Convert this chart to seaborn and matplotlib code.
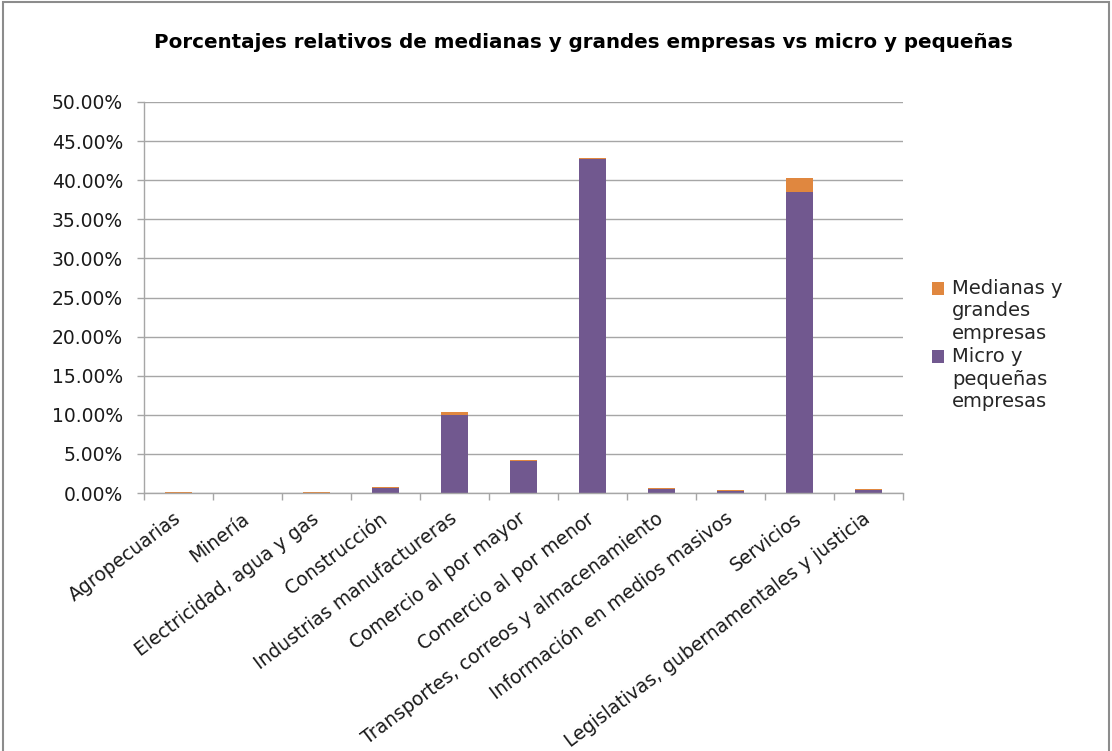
import matplotlib
matplotlib.use("Agg")
import matplotlib.pyplot as plt
from matplotlib.patches import Patch, Rectangle
from matplotlib.legend_handler import HandlerPatch
from matplotlib.ticker import FuncFormatter, MultipleLocator, FixedLocator
import numpy as np
import pandas as pd
import seaborn as sns

# Sector shares (% of all establishments)
sectores = [
    "Agropecuarias",
    "Minería",
    "Electricidad, agua y gas",
    "Construcción",
    "Industrias manufactureras",
    "Comercio al por mayor",
    "Comercio al por menor",
    "Transportes, correos y almacenamiento",
    "Información en medios masivos",
    "Servicios",
    "Legislativas, gubernamentales y justicia",
]
micro_pequenas = [0.02, 0.0, 0.02, 0.68, 9.97, 4.09, 42.75, 0.55, 0.30, 38.45, 0.43]
medianas_grandes = [0.14, 0.0, 0.14, 0.08, 0.43, 0.13, 0.13, 0.09, 0.12, 1.79, 0.07]

serie_med = "Medianas y\ngrandes\nempresas"
serie_micro = "Micro y\npequeñas\nempresas"

color_med = "#E0873F"
color_micro = "#71588F"
gris = "#A6A6A6"

df = pd.DataFrame({
    "sector": sectores,
    "micro": micro_pequenas,
    "total": np.array(micro_pequenas) + np.array(medianas_grandes),
})

sns.set_theme(style="white")
plt.rcParams["font.family"] = ["DejaVu Sans"]

fig = plt.figure(figsize=(11.12, 7.51), dpi=100)
ax = fig.add_axes([0.1295, 0.3435, 0.6825, 0.5207])

# Stacked columns: full height in orange, lower segment in purple on top
sns.barplot(data=df, x="sector", y="total", color=color_med, width=0.39,
            saturation=1, ax=ax, edgecolor="none")
sns.barplot(data=df, x="sector", y="micro", color=color_micro, width=0.39,
            saturation=1, ax=ax, edgecolor="none")

ax.set_xlim(-0.5, len(sectores) - 0.5)
ax.set_ylim(0, 50)
ax.yaxis.set_major_locator(MultipleLocator(5))
ax.yaxis.set_major_formatter(FuncFormatter(lambda v, _: f"{v:.2f}%"))
ax.set_xlabel("")
ax.set_ylabel("")

ax.grid(axis="y", color=gris, linewidth=1.0)
ax.set_axisbelow(True)
for side in ["top", "right"]:
    ax.spines[side].set_visible(False)
for side in ["left", "bottom"]:
    ax.spines[side].set_color(gris)
    ax.spines[side].set_linewidth(1.0)

ax.tick_params(axis="y", which="major", left=True, length=5, width=1,
               color=gris, labelsize=13.5, labelcolor="#1a1a1a", pad=10)
ax.tick_params(axis="x", which="major", bottom=False, length=0,
               labelsize=13.5, labelcolor="#1a1a1a", pad=17)
ax.xaxis.set_minor_locator(FixedLocator(np.arange(-0.5, len(sectores), 1.0)))
ax.tick_params(axis="x", which="minor", bottom=True, length=5, width=1,
               color=gris)

ax.set_xticks(range(len(sectores)))
ax.set_xticklabels(sectores, rotation=37, ha="right", rotation_mode="anchor")
for lbl in ax.get_xticklabels():
    lbl.set_verticalalignment("center")

fig.text(0.525, 0.944,
         "Porcentajes relativos de medianas y grandes empresas vs micro y pequeñas",
         ha="center", va="center", fontsize=14.3, fontweight="bold",
         color="#000000")


# Legend swatch sits beside the first line of its label
def first_line_patch(legend, orig_handle, xdescent, ydescent, width, height, fontsize):
    shift = 1.19 * fontsize
    return Rectangle((-xdescent, -ydescent + shift), width, height)


leg_fs = 14
handles = [Patch(facecolor=color_med, edgecolor="none", label=serie_med),
           Patch(facecolor=color_micro, edgecolor="none", label=serie_micro)]
leg = fig.legend(handles=handles, loc="upper left", bbox_to_anchor=(0.838, 0.629),
                 frameon=False, fontsize=leg_fs, handlelength=0.63, handleheight=0.63,
                 handletextpad=0.42, labelspacing=0.22, borderpad=0, borderaxespad=0,
                 labelcolor="#262626",
                 handler_map={Patch: HandlerPatch(patch_func=first_line_patch)})
for t in leg.get_texts():
    t.set_linespacing(1.24)

# Chart frame
fig.patches.append(Rectangle((0.003, -0.02), 0.994, 1.017, transform=fig.transFigure,
                             fill=False, edgecolor="#8C8C8C", linewidth=1.5))

fig.savefig("out.png", dpi=100)
